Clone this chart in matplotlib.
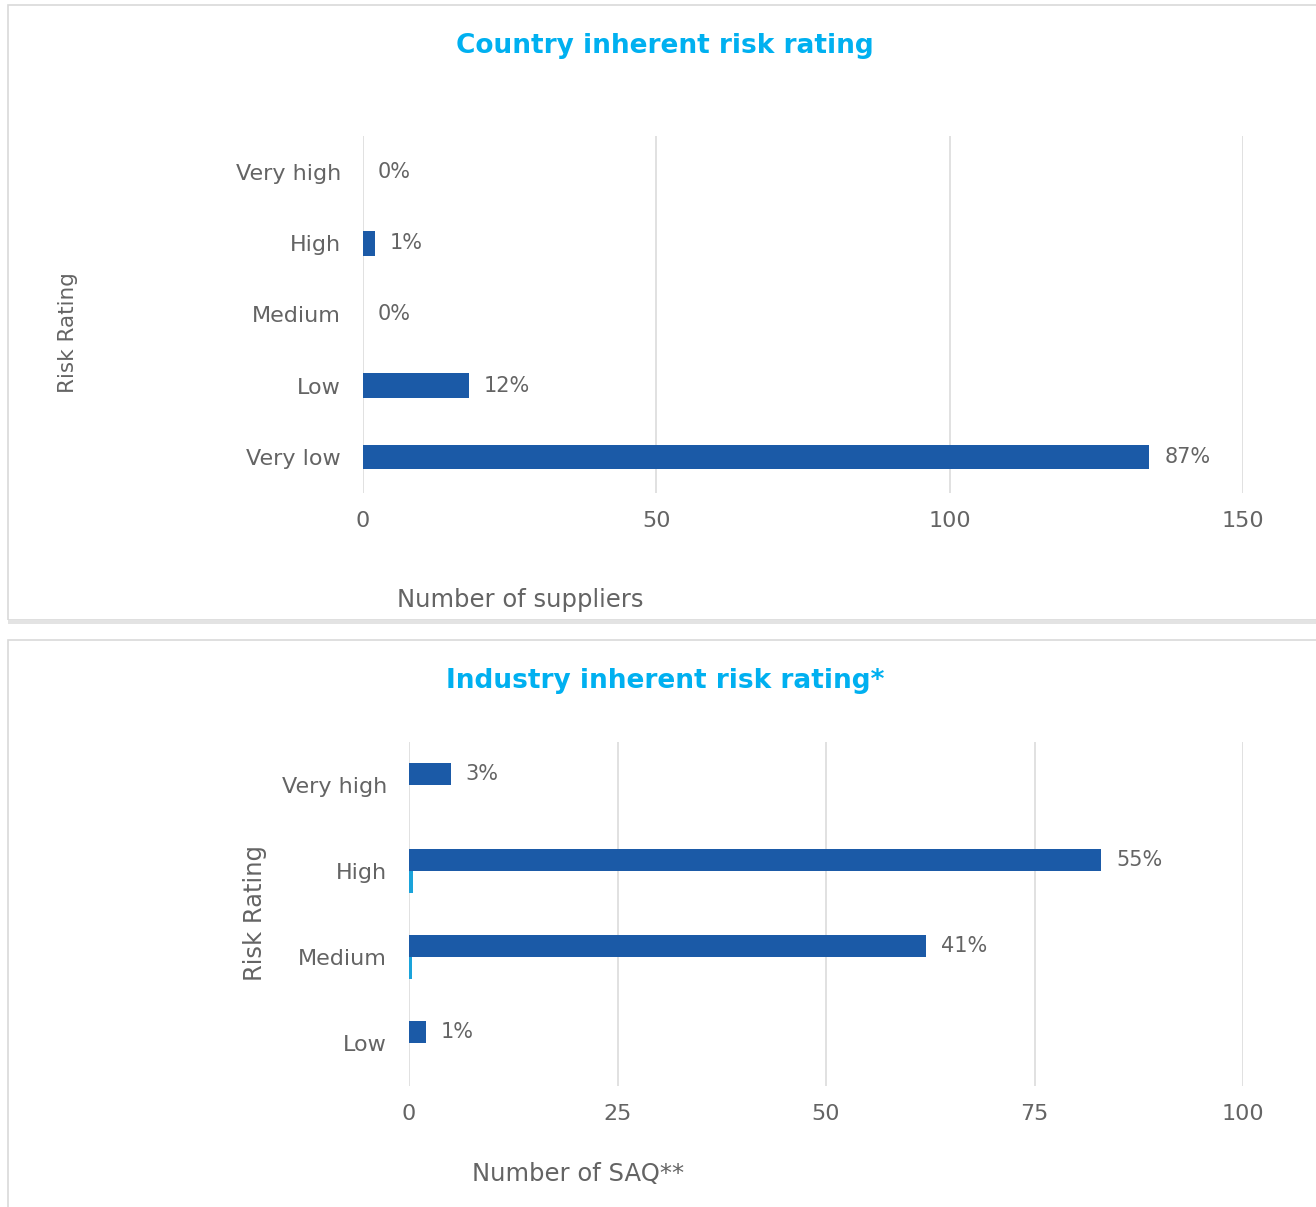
import matplotlib
matplotlib.use("Agg")
import matplotlib.pyplot as plt
from matplotlib.patches import Rectangle

# ---- data ----
country_categories = ["Very low", "Low", "Medium", "High", "Very high"]
country_counts = [134, 18, 0, 2, 0]
country_labels = ["87%", "12%", "0%", "1%", "0%"]

industry_categories = ["Low", "Medium", "High", "Very high"]
industry_counts = [2, 62, 83, 5]
industry_secondary = [0, 0.35, 0.5, 0]
industry_labels = ["1%", "41%", "55%", "3%"]

country_xticks = [0, 50, 100, 150]
industry_xticks = [0, 25, 50, 75, 100]

DARK = "#1B5AA7"
LIGHT = "#1AA3DA"
TXT = "#646464"
GRID = "#D9D9D9"
TITLE = "#00B0F0"

W, H = 1316, 1207
fig = plt.figure(figsize=(W / 100, H / 100), dpi=100)
plt.rcParams['font.family'] = ['DejaVu Sans']


def ax_at(x0, y0, x1, y1):
    return fig.add_axes([x0 / W, 1 - y1 / H, (x1 - x0) / W, (y1 - y0) / H])


def fx(x):
    return x / W


def fy(y):
    return 1 - y / H


# panel frames
fig.patches.append(Rectangle((fx(8), fy(620)), fx(1320) - fx(8), fy(5) - fy(620),
                             transform=fig.transFigure, fill=False, edgecolor=GRID, lw=1.2))
fig.patches.append(Rectangle((fx(8), fy(624)), fx(1320) - fx(8), fy(620) - fy(624),
                             transform=fig.transFigure, facecolor="#E3E3E3", edgecolor="none"))
fig.patches.append(Rectangle((fx(8), fy(1215)), fx(1320) - fx(8), fy(640) - fy(1215),
                             transform=fig.transFigure, fill=False, edgecolor=GRID, lw=1.2))

FS = 15
TFS = 16


def style(ax, xticks, xmax):
    ax.set_xlim(0, xmax)
    ax.set_xticks(xticks)
    for s in ax.spines.values():
        s.set_visible(False)
    ax.grid(axis="x", color=GRID, lw=1.1)
    ax.set_axisbelow(True)
    ax.tick_params(length=0, labelsize=TFS, colors=TXT)
    ax.tick_params(axis="x", pad=13)
    ax.tick_params(axis="y", pad=16)


# ---- top chart ----
ax1 = ax_at(363, 136.4, 1243, 492.6)
y1 = list(range(len(country_categories)))
ax1.barh(y1, country_counts, height=0.35, color=DARK)
ax1.set_ylim(-0.5, len(country_categories) - 0.5)
ax1.set_yticks(y1)
ax1.set_yticklabels(country_categories)
style(ax1, country_xticks, 150)
for yi, v, lab in zip(y1, country_counts, country_labels):
    ax1.annotate(lab, (v, yi), xytext=(15, 0), textcoords="offset pixels",
                 va="center", ha="left", fontsize=FS, color=TXT)
fig.text(fx(665), fy(46), "Country inherent risk rating", ha="center", va="center",
         fontsize=19, fontweight="bold", color=TITLE)
fig.text(fx(68), fy(333), "Risk Rating", rotation=90, ha="center", va="center",
         fontsize=15.5, color=TXT)
fig.text(fx(520), fy(600), "Number of suppliers", ha="center", va="center",
         fontsize=17.5, color=TXT)

# ---- bottom chart ----
ax2 = ax_at(409, 742, 1243, 1086)
y2 = list(range(len(industry_categories)))
bh = 0.256
ax2.barh([y + bh / 2 for y in y2], industry_counts, height=bh, color=DARK)
ax2.barh([y - bh / 2 for y in y2], industry_secondary, height=bh, color=LIGHT)
ax2.set_ylim(-0.5, len(industry_categories) - 0.5)
ax2.set_yticks(y2)
ax2.set_yticklabels(industry_categories)
style(ax2, industry_xticks, 100)
for yi, v, lab in zip(y2, industry_counts, industry_labels):
    ax2.annotate(lab, (v, yi + bh / 2), xytext=(15, 0), textcoords="offset pixels",
                 va="center", ha="left", fontsize=FS, color=TXT)
fig.text(fx(665), fy(681), "Industry inherent risk rating*", ha="center", va="center",
         fontsize=19, fontweight="bold", color=TITLE)
fig.text(fx(255), fy(913), "Risk Rating", rotation=90, ha="center", va="center",
         fontsize=17.5, color=TXT)
fig.text(fx(578), fy(1174), "Number of SAQ**", ha="center", va="center",
         fontsize=17.5, color=TXT)

fig.savefig("out.png", dpi=100)
